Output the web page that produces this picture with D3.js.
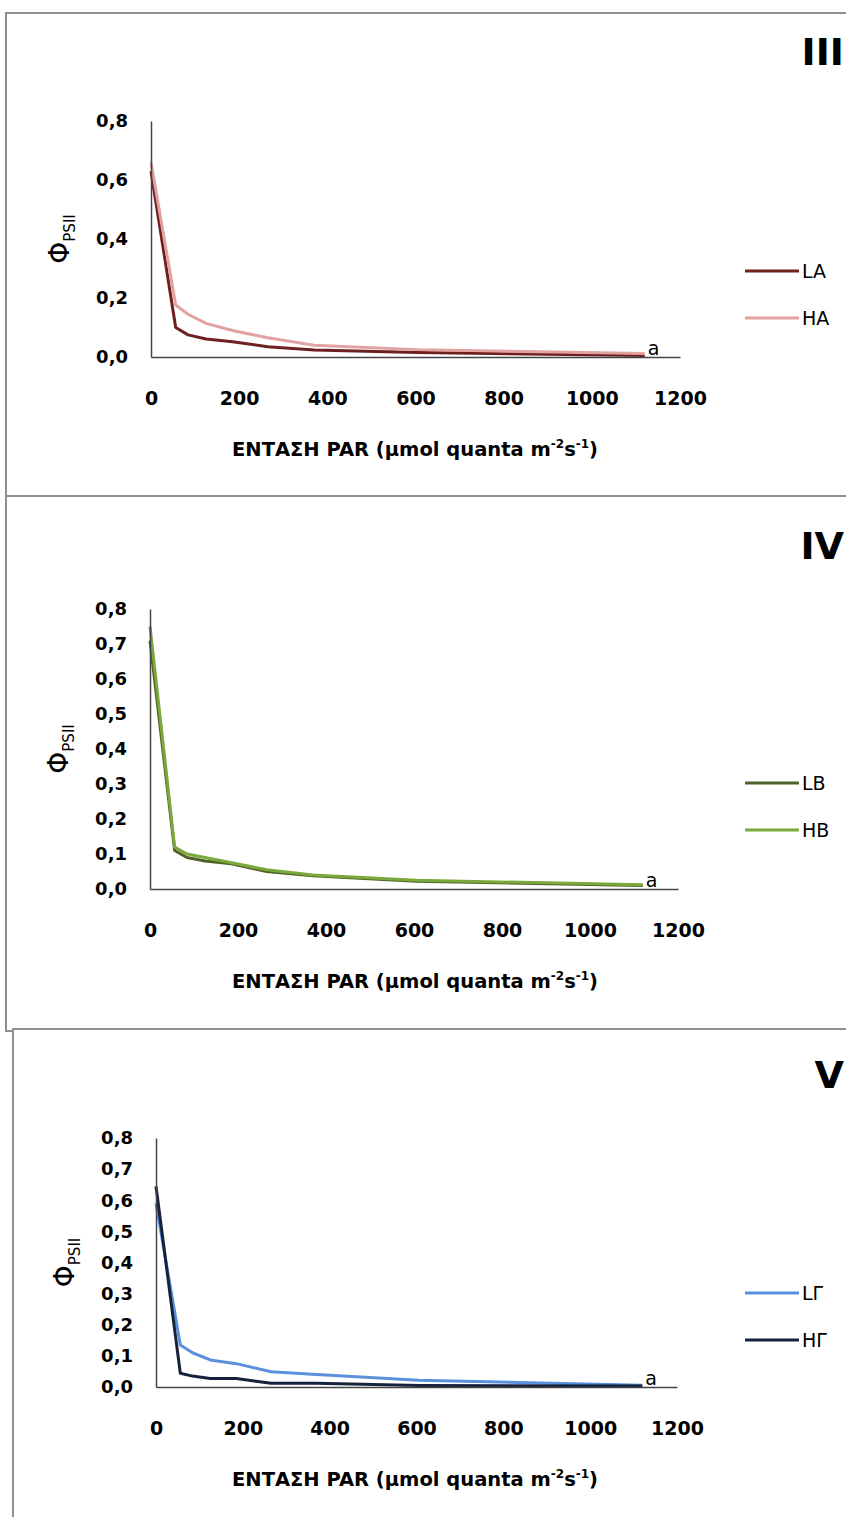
<!DOCTYPE html>
<html>
<head>
<meta charset="utf-8">
<script src="https://cdn.jsdelivr.net/npm/d3@7"></script>
<style>
  body { margin: 0; background: #fff; }
  svg { display: block; }
</style>
</head>
<body>
<div id="chart"></div>
<script>
// light intensity steps (PAR), shared by all panels
let parX = [0, 56, 84, 125, 185, 265, 370, 605, 1120];
let xTicks = [0, 200, 400, 600, 800, 1000, 1200];
let yTicksWide = [0, 0.2, 0.4, 0.6, 0.8];
let yTicksFine = [0, 0.1, 0.2, 0.3, 0.4, 0.5, 0.6, 0.7, 0.8];

// panel III
let valuesLA = [0.63, 0.10, 0.075, 0.061, 0.052, 0.035, 0.024, 0.015, 0.005];
let valuesHA = [0.66, 0.176, 0.145, 0.114, 0.09, 0.065, 0.04, 0.025, 0.012];
// panel IV
let valuesLB = [0.71, 0.11, 0.09, 0.08, 0.072, 0.05, 0.038, 0.022, 0.01];
let valuesHB = [0.75, 0.12, 0.10, 0.09, 0.075, 0.055, 0.04, 0.025, 0.012];
// panel V
let valuesLG = [0.59, 0.135, 0.11, 0.087, 0.075, 0.049, 0.04, 0.022, 0.006];
let valuesHG = [0.645, 0.044, 0.035, 0.027, 0.027, 0.012, 0.012, 0.005, 0.003];

let FONT = "'DejaVu Sans', sans-serif";

let svg = d3.select("#chart").append("svg")
    .attr("width", 846)
    .attr("height", 1517);

// panel frames
svg.append("rect").attr("x", 6).attr("y", 13).attr("width", 900).attr("height", 483)
    .attr("fill", "none").attr("stroke", "#8f8f8f").attr("stroke-width", 2);
svg.append("rect").attr("x", 6).attr("y", 496).attr("width", 900).attr("height", 535)
    .attr("fill", "none").attr("stroke", "#8f8f8f").attr("stroke-width", 2);
svg.append("rect").attr("x", 13).attr("y", 1029).attr("width", 900).attr("height", 600)
    .attr("fill", "#fff").attr("stroke", "#8f8f8f").attr("stroke-width", 2);

let panels = [
    {ox: 151, oy: 357, xEnd: 680, yTop: 121, yTicks: yTicksWide, roman: "III", romanY: 65,
     series: [{name: "LA", values: valuesLA, color: "#6e2020", ly: 271},
              {name: "HA", values: valuesHA, color: "#e2a2a2", ly: 318}]},
    {ox: 150, oy: 889, xEnd: 678, yTop: 609, yTicks: yTicksFine, roman: "IV", romanY: 559,
     series: [{name: "LB", values: valuesLB, color: "#4f6228", ly: 783},
              {name: "HB", values: valuesHB, color: "#7aa83c", ly: 830}]},
    {ox: 156, oy: 1387, xEnd: 677, yTop: 1138, yTicks: yTicksFine, roman: "V", romanY: 1088,
     series: [{name: "LΓ", values: valuesLG, color: "#5b90dc", ly: 1293},
              {name: "HΓ", values: valuesHG, color: "#15223c", ly: 1340}]}
];

panels.forEach(function (p) {
    let x = d3.scaleLinear().domain([0, 1200]).range([p.ox, p.xEnd]);
    let y = d3.scaleLinear().domain([0, 0.8]).range([p.oy, p.yTop]);

    // roman numeral at the top right corner
    svg.append("text")
        .attr("x", 844).attr("y", p.romanY)
        .attr("text-anchor", "end")
        .attr("font-family", FONT).attr("font-size", 38).attr("font-weight", "bold")
        .text(p.roman);

    // the lines
    let line = d3.line()
        .x(function (d, i) { return x(parX[i]); })
        .y(function (d) { return y(d); });

    p.series.forEach(function (s) {
        svg.append("path")
            .datum(s.values)
            .attr("d", line)
            .attr("fill", "none")
            .attr("stroke", s.color)
            .attr("stroke-width", 3)
            .attr("stroke-linejoin", "round");

        // legend entry
        svg.append("line")
            .attr("x1", 745).attr("x2", 799)
            .attr("y1", s.ly).attr("y2", s.ly)
            .attr("stroke", s.color).attr("stroke-width", 3);
        svg.append("text")
            .attr("x", 802).attr("y", s.ly)
            .attr("dy", "0.36em")
            .attr("font-family", FONT).attr("font-size", 19)
            .text(s.name);
    });

    // y axis
    let gy = svg.append("g")
        .attr("transform", "translate(" + p.ox + ",0)")
        .call(d3.axisLeft(y).tickValues(p.yTicks).tickSize(0).tickSizeOuter(0).tickPadding(23)
            .tickFormat(function (d) { return d3.format(".1f")(d).replace(".", ","); }));
    gy.select(".domain").attr("stroke", "#444").attr("stroke-width", 1.5);
    gy.selectAll("text").attr("font-family", FONT).attr("font-size", 18)
        .attr("font-weight", "bold").attr("fill", "#000");

    // x axis
    let gx = svg.append("g")
        .attr("transform", "translate(0," + p.oy + ")")
        .call(d3.axisBottom(x).tickValues(xTicks).tickSize(0).tickSizeOuter(0).tickPadding(35)
            .tickFormat(d3.format("d")));
    gx.select(".domain").attr("stroke", "#444").attr("stroke-width", 1.5);
    gx.selectAll("text").attr("font-family", FONT).attr("font-size", 19)
        .attr("font-weight", "bold").attr("fill", "#000");

    // the "a" mark after the last point
    svg.append("text")
        .attr("x", x(parX[parX.length - 1]) + 3).attr("y", p.oy - 2)
        .attr("font-family", FONT).attr("font-size", 19)
        .text("a");

    // y title: Φ with subscript PSII
    let yt = svg.append("text")
        .attr("transform", "translate(" + (p.ox - 82) + "," + ((p.oy + p.yTop) / 2) + ") rotate(-90)")
        .attr("text-anchor", "middle")
        .attr("font-family", FONT);
    yt.append("tspan").attr("font-size", 28).text("Φ");
    yt.append("tspan").attr("font-size", 15).attr("dy", 6).text("PSII");

    // x title
    let xt = svg.append("text")
        .attr("x", 415).attr("y", p.oy + 99)
        .attr("text-anchor", "middle")
        .attr("font-family", FONT).attr("font-size", 19.5).attr("font-weight", "bold");
    xt.append("tspan").text("ΕΝΤΑΣΗ PAR (μmol quanta m");
    xt.append("tspan").attr("font-size", 12).attr("dy", -8).text("-2");
    xt.append("tspan").attr("dy", 8).text("s");
    xt.append("tspan").attr("font-size", 12).attr("dy", -8).text("-1");
    xt.append("tspan").attr("dy", 8).text(")");
});
</script>
</body>
</html>
